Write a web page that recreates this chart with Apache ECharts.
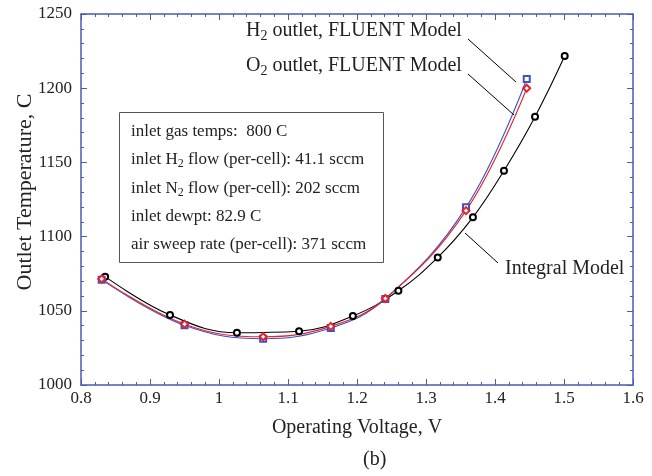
<!DOCTYPE html>
<html>
<head>
<meta charset="utf-8">
<script src="https://cdn.jsdelivr.net/npm/echarts@6/dist/echarts.min.js"></script>
<style>
  html, body { margin: 0; padding: 0; background: #fff; }
  #main { width: 652px; height: 476px; }
</style>
</head>
<body>
<div id="main"></div>
<script>
// 读图数据
const integralV = [0.835, 0.929, 1.026, 1.116, 1.194, 1.26, 1.317, 1.368, 1.413, 1.458, 1.501];
const integralT = [1073, 1047.2, 1035.2, 1036.2, 1046.5, 1063.5, 1086, 1113, 1144.4, 1180.8, 1221.7];

const h2V = [0.83, 0.95, 1.064, 1.162, 1.241, 1.358, 1.446];
const h2T = [1071, 1040.2, 1031.2, 1038.4, 1058, 1119.7, 1206.2];

const o2V = [0.83, 0.95, 1.064, 1.162, 1.241, 1.358, 1.446];
const o2T = [1071.5, 1041, 1032.5, 1039.5, 1058.3, 1117.5, 1200];

const noteLines = [
  "inlet gas temps:  800 C",
  "inlet H{s|2} flow (per-cell): 41.1 sccm",
  "inlet N{s|2} flow (per-cell): 202 sccm",
  "inlet dewpt: 82.9 C",
  "air sweep rate (per-cell): 371 sccm",
];

const serif = "Liberation Serif";
const axisBlue = "#4a5bb0";

const chart = echarts.init(document.getElementById("main"));

const pairs = (xs, ys) => xs.map((x, i) => [x, ys[i]]);

function label(text, x, y, size) {
  const sub = Math.round(size * 0.68);
  return {
    type: "text",
    left: x,
    top: y,
    style: {
      text: text,
      fontFamily: serif,
      fontSize: size,
      lineHeight: size + 4,
      fill: "#222",
      rich: { s: { fontSize: sub, fontFamily: serif, lineHeight: sub, verticalAlign: "bottom", fill: "#222" } },
    },
    z: 10,
  };
}

function leader(x1, y1, x2, y2) {
  return {
    type: "line",
    shape: { x1, y1, x2, y2 },
    style: { stroke: "#000", lineWidth: 1 },
    z: 10,
  };
}

const graphics = [
  {
    type: "rect",
    shape: { x: 119.5, y: 112.5, width: 264, height: 150 },
    style: { fill: "#fff", stroke: "#555", lineWidth: 1 },
    z: 9,
  },
  label("H{s|2} outlet, FLUENT Model", 246, 19, 20),
  label("O{s|2} outlet, FLUENT Model", 246, 54, 20),
  label("Integral Model", 505, 257, 20),
  leader(468, 39, 516, 82),
  leader(468, 74, 514, 115),
  leader(465, 233, 498, 263),
  label("(b)", 363, 448, 20),
];
noteLines.forEach((t, i) => graphics.push(label(t, 131, 121 + i * 28.3, 17)));

const tickLabel = { fontFamily: serif, fontSize: 17, color: "#222" };

const option = {
  animation: false,
  backgroundColor: "#fff",
  grid: { left: 81, top: 14, right: 19, bottom: 91, outerBoundsMode: "none", containLabel: false },
  xAxis: [
    {
      type: "value",
      min: 0.8,
      max: 1.6,
      interval: 0.1,
      name: "Operating Voltage, V",
      nameLocation: "middle",
      nameGap: 33,
      nameMoveOverlap: false,
      nameTextStyle: { fontFamily: serif, fontSize: 20, color: "#222" },
      axisLine: { lineStyle: { color: axisBlue, width: 1.5 } },
      axisTick: { inside: true, length: 6, lineStyle: { color: axisBlue } },
      minorTick: { show: true, splitNumber: 5, length: 3, lineStyle: { color: axisBlue } },
      axisLabel: { ...tickLabel, margin: 5 },
      splitLine: { show: false },
    },
    {
      type: "value",
      position: "top",
      min: 0.8,
      max: 1.6,
      interval: 0.1,
      axisLine: { lineStyle: { color: axisBlue, width: 1.5 } },
      axisTick: { inside: true, length: 6, lineStyle: { color: axisBlue } },
      minorTick: { show: true, splitNumber: 5, length: 3, lineStyle: { color: axisBlue } },
      axisLabel: { show: false },
      splitLine: { show: false },
    },
  ],
  yAxis: [
    {
      type: "value",
      min: 1000,
      max: 1250,
      interval: 50,
      name: "Outlet Temperature, C",
      nameLocation: "middle",
      nameGap: 45,
      nameMoveOverlap: false,
      nameTextStyle: { fontFamily: serif, fontSize: 22, color: "#222", padding: [0, 0, 0, 15] },
      axisLine: { show: true, lineStyle: { color: axisBlue, width: 1.5 } },
      axisTick: { show: true, inside: true, length: 6, lineStyle: { color: axisBlue } },
      minorTick: { show: true, splitNumber: 5, length: 3, lineStyle: { color: axisBlue } },
      axisLabel: { ...tickLabel, margin: 9, formatter: (v) => String(v) },
      splitLine: { show: false },
    },
    {
      type: "value",
      position: "right",
      min: 1000,
      max: 1250,
      interval: 50,
      axisLine: { show: true, lineStyle: { color: axisBlue, width: 1.5 } },
      axisTick: { show: true, inside: true, length: 6, lineStyle: { color: axisBlue } },
      minorTick: { show: true, splitNumber: 5, length: 3, lineStyle: { color: axisBlue } },
      axisLabel: { show: false },
      splitLine: { show: false },
    },
  ],
  series: [
    {
      name: "Integral Model",
      type: "line",
      data: pairs(integralV, integralT),
      smooth: 0.4,
      symbol: "emptyCircle",
      symbolSize: 6,
      lineStyle: { color: "#000", width: 1.1 },
      itemStyle: { color: "#000", borderWidth: 0.7 },
    },
    {
      name: "H2 outlet, FLUENT Model",
      type: "line",
      data: pairs(h2V, h2T),
      smooth: 0.4,
      symbol: "emptyRect",
      symbolSize: 6,
      lineStyle: { color: "#3f52c4", width: 1.1 },
      itemStyle: { color: "#3f52c4", borderWidth: 0.7 },
    },
    {
      name: "O2 outlet, FLUENT Model",
      type: "line",
      data: pairs(o2V, o2T),
      smooth: 0.4,
      symbol: "emptyDiamond",
      symbolSize: 7,
      lineStyle: { color: "#e8202a", width: 1.1 },
      itemStyle: { color: "#e8202a", borderWidth: 0.7 },
    },
  ],
  graphic: graphics,
};

chart.setOption(option);
</script>
</body>
</html>
